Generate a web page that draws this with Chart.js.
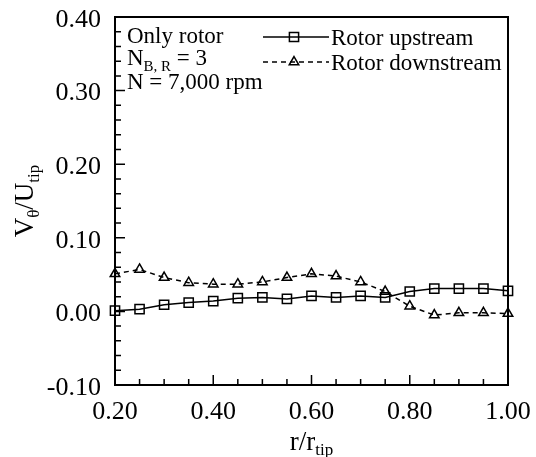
<!DOCTYPE html>
<html>
<head>
<meta charset="utf-8">
<script src="https://cdn.jsdelivr.net/npm/chart.js@4.4.1/dist/chart.umd.min.js"></script>
<style>
  html, body { margin: 0; padding: 0; background: #fff; }
  canvas { display: block; }
</style>
</head>
<body>
<canvas id="chart" width="536" height="457"></canvas>
<script>
// radial position r/r_tip
const rValues = [0.20, 0.25, 0.30, 0.35, 0.40, 0.45, 0.50, 0.55, 0.60, 0.65, 0.70, 0.75, 0.80, 0.85, 0.90, 0.95, 1.00];
// V_theta / U_tip
const upstream = [0.001, 0.003, 0.009, 0.012, 0.014, 0.018, 0.019, 0.017, 0.021, 0.019, 0.021, 0.019, 0.027, 0.031, 0.031, 0.031, 0.028];
const downstream = [0.051, 0.057, 0.046, 0.039, 0.037, 0.037, 0.040, 0.046, 0.051, 0.048, 0.040, 0.027, 0.007, -0.005, -0.002, -0.002, -0.003];

const seriesLabels = ["Rotor upstream", "Rotor downstream"];
const notes = ["Only rotor", "N_B, R = 3", "N = 7,000 rpm"];

// axis ticks
const xMajorTicks = [0.20, 0.40, 0.60, 0.80, 1.00];
const xMinorTicks = [0.25, 0.30, 0.35, 0.45, 0.50, 0.55, 0.65, 0.70, 0.75, 0.85, 0.90, 0.95];
const yMajorTicks = [-0.10, 0.00, 0.10, 0.20, 0.30, 0.40];
const yMinorTicks = [-0.08, -0.06, -0.04, -0.02, 0.02, 0.04, 0.06, 0.08, 0.12, 0.14, 0.16, 0.18,
                     0.22, 0.24, 0.26, 0.28, 0.32, 0.34, 0.36, 0.38];

const SERIF = "'Liberation Serif', 'Times New Roman', serif";

const toPoints = (vals) => vals.map((v, i) => ({ x: rValues[i], y: v }));

// frame + inward tick marks (left and bottom only)
const framePlugin = {
  id: "frame",
  afterDatasetsDraw(chart) {
    const { ctx, chartArea: a, scales: { x, y } } = chart;
    ctx.save();
    ctx.strokeStyle = "#000";
    ctx.lineWidth = 2;
    ctx.strokeRect(a.left, a.top, a.right - a.left, a.bottom - a.top);
    ctx.lineWidth = 1.5;
    ctx.beginPath();
    xMajorTicks.forEach(v => { const p = x.getPixelForValue(v); ctx.moveTo(p, a.bottom); ctx.lineTo(p, a.bottom - 10); });
    xMinorTicks.forEach(v => { const p = x.getPixelForValue(v); ctx.moveTo(p, a.bottom); ctx.lineTo(p, a.bottom - 6); });
    yMajorTicks.forEach(v => { const p = y.getPixelForValue(v); ctx.moveTo(a.left, p); ctx.lineTo(a.left + 10, p); });
    yMinorTicks.forEach(v => { const p = y.getPixelForValue(v); ctx.moveTo(a.left, p); ctx.lineTo(a.left + 6, p); });
    ctx.stroke();
    ctx.restore();
  }
};

// draws text with subscript parts, returns end x
function subText(ctx, parts, x, y, big, small, drop) {
  parts.forEach(([txt, sub]) => {
    ctx.font = (sub ? small : big) + "px " + SERIF;
    ctx.fillText(txt, x, sub ? y + drop : y);
    x += ctx.measureText(txt).width;
  });
  return x;
}
function subWidth(ctx, parts, big, small) {
  let w = 0;
  parts.forEach(([txt, sub]) => {
    ctx.font = (sub ? small : big) + "px " + SERIF;
    w += ctx.measureText(txt).width;
  });
  return w;
}

const textPlugin = {
  id: "texts",
  afterDraw(chart) {
    const { ctx, chartArea: a } = chart;
    ctx.save();
    ctx.fillStyle = "#000";
    ctx.textBaseline = "alphabetic";
    ctx.textAlign = "left";

    // notes, top left
    ctx.font = "23px " + SERIF;
    ctx.fillText(notes[0], 127, 43);
    const [n, rest] = notes[1].split("_");
    const subPart = rest.split(" = ")[0];
    subText(ctx, [[n, false], [subPart, true], [" = 3", false]], 127, 65, 23, 15, 6);
    ctx.font = "23px " + SERIF;
    ctx.fillText(notes[2], 127, 89);

    // legend, top right
    const ds = chart.data.datasets;
    const rows = [37, 62];
    rows.forEach((ry, i) => {
      const d = ds[i];
      ctx.save();
      ctx.strokeStyle = "#000";
      ctx.fillStyle = "rgba(0,0,0,0)";
      ctx.lineWidth = d.borderWidth;
      ctx.setLineDash(d.borderDash || []);
      ctx.beginPath();
      ctx.moveTo(263, ry);
      ctx.lineTo(329, ry);
      ctx.stroke();
      ctx.setLineDash([]);
      ctx.lineWidth = d.pointBorderWidth;
      Chart.helpers.drawPoint(ctx, {
        pointStyle: d.pointStyle, radius: d.pointRadius, borderWidth: d.pointBorderWidth, rotation: 0
      }, 294, ry);
      ctx.restore();
      ctx.font = "23px " + SERIF;
      ctx.fillText(seriesLabels[i], 331, ry + 8);
    });

    // x title
    const xParts = [["r/r", false], ["tip", true]];
    const xw = subWidth(ctx, xParts, 27, 17);
    subText(ctx, xParts, (a.left + a.right) / 2 - xw / 2, 450, 27, 17, 5);

    // y title (rotated)
    const yParts = [["V", false], ["θ", true], ["/U", false], ["tip", true]];
    const yw = subWidth(ctx, yParts, 27, 17);
    ctx.translate(33, (a.top + a.bottom) / 2);
    ctx.rotate(-Math.PI / 2);
    subText(ctx, yParts, -yw / 2, 0, 27, 17, 6);
    ctx.restore();
  }
};

// stop the tick labels from pushing the plot area inwards
const noEdgePadding = (s) => {
  s.paddingTop = 0; s.paddingBottom = 0; s.paddingLeft = 0; s.paddingRight = 0;
};

new Chart(document.getElementById("chart").getContext("2d"), {
  type: "line",
  data: {
    datasets: [
      {
        label: seriesLabels[0],
        data: toPoints(upstream),
        borderColor: "#000",
        borderWidth: 1.5,
        pointStyle: "rect",
        pointRadius: 6.5,
        pointBorderWidth: 1.5,
        pointBorderColor: "#000",
        pointBackgroundColor: "rgba(0,0,0,0)",
        tension: 0,
        clip: false
      },
      {
        label: seriesLabels[1],
        data: toPoints(downstream),
        borderColor: "#000",
        borderWidth: 1.5,
        borderDash: [5, 4],
        pointStyle: "triangle",
        pointRadius: 5.5,
        pointBorderWidth: 1.5,
        pointBorderColor: "#000",
        pointBackgroundColor: "rgba(0,0,0,0)",
        tension: 0,
        clip: false
      }
    ]
  },
  options: {
    responsive: false,
    animation: false,
    devicePixelRatio: 1,
    layout: { padding: { top: 17, right: 28, left: 0, bottom: 0 } },
    plugins: { legend: { display: false }, tooltip: { enabled: false } },
    scales: {
      x: {
        type: "linear",
        min: 0.2,
        max: 1.0,
        afterFit: (s) => { s.height = 72; noEdgePadding(s); },
        afterBuildTicks: (s) => { s.ticks = xMajorTicks.map(v => ({ value: v })); },
        ticks: {
          callback: (v) => v.toFixed(2),
          font: { family: SERIF, size: 26 },
          color: "#000",
          padding: 12,
          maxRotation: 0,
          autoSkip: false
        },
        grid: { display: false, drawTicks: false },
        border: { display: false }
      },
      y: {
        min: -0.1,
        max: 0.4,
        afterFit: (s) => { s.width = 115; noEdgePadding(s); },
        afterBuildTicks: (s) => { s.ticks = yMajorTicks.map(v => ({ value: v })); },
        ticks: {
          callback: (v) => v.toFixed(2),
          font: { family: SERIF, size: 26 },
          color: "#000",
          padding: 14,
          labelOffset: 3,
          autoSkip: false
        },
        grid: { display: false, drawTicks: false },
        border: { display: false }
      }
    }
  },
  plugins: [framePlugin, textPlugin]
});
</script>
</body>
</html>
